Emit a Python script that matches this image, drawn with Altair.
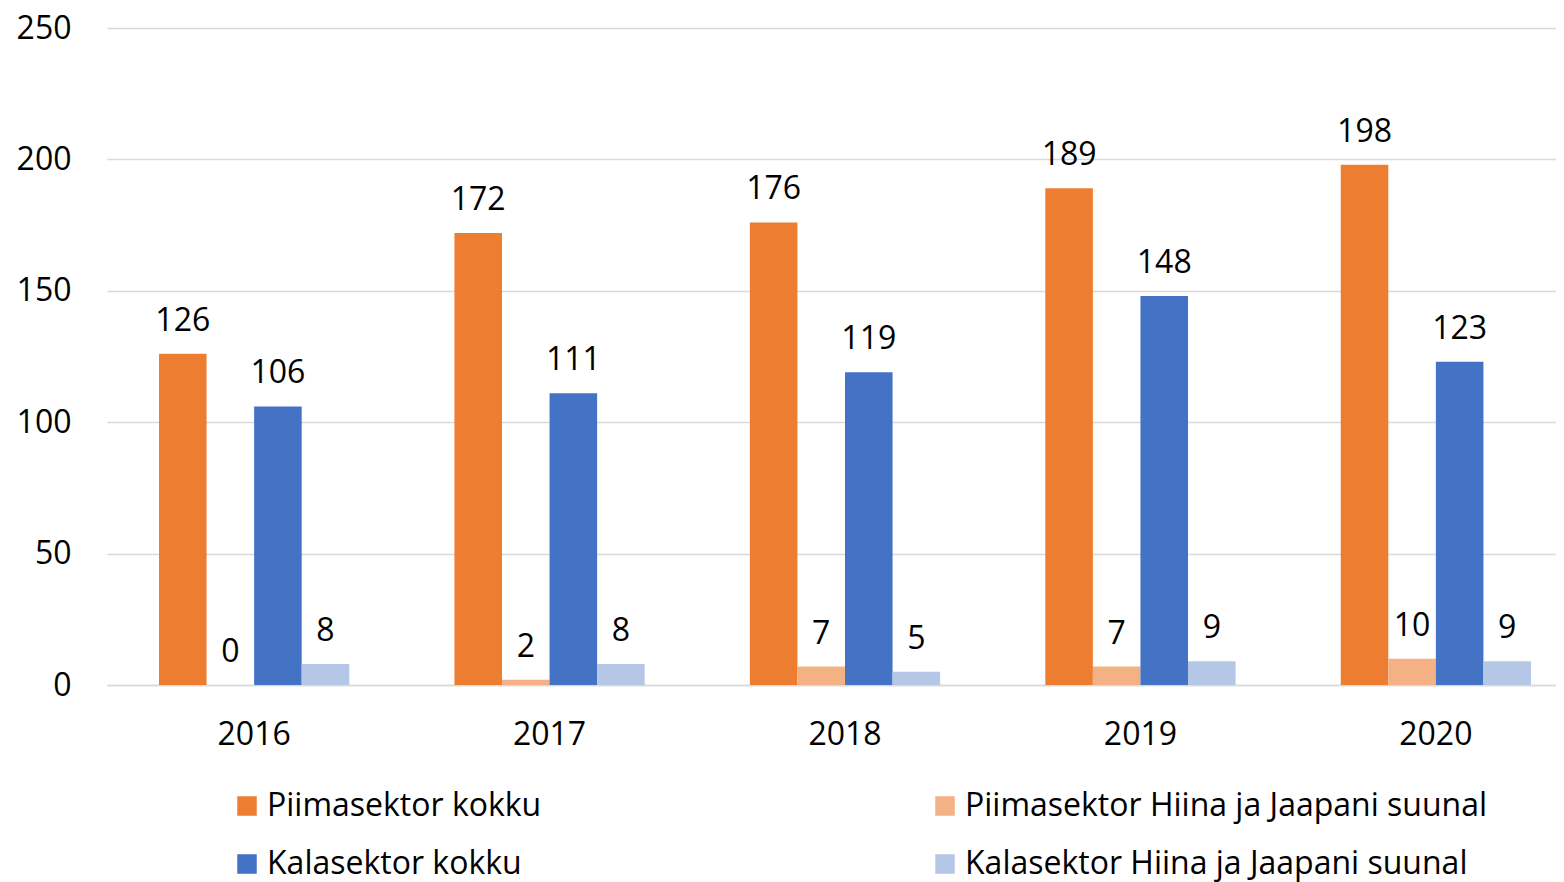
import altair as alt
import pandas as pd

years = ["2016", "2017", "2018", "2019", "2020"]
series = ["Piimasektor kokku", "Piimasektor Hiina ja Jaapani suunal",
          "Kalasektor kokku", "Kalasektor Hiina ja Jaapani suunal"]
piim_kokku = [126, 172, 176, 189, 198]
piim_hj = [0, 2, 7, 7, 10]
kala_kokku = [106, 111, 119, 148, 123]
kala_hj = [8, 8, 5, 9, 9]
colors = ["#ED7D31", "#F4B183", "#4472C4", "#B4C7E7"]

rows = []
for s, vals in zip(series, [piim_kokku, piim_hj, kala_kokku, kala_hj]):
    for y, v in zip(years, vals):
        rows.append({"year": y, "series": s, "value": v})
df = pd.DataFrame(rows)

FONT = "Open Sans"

x = alt.X("year:N", title=None,
          scale=alt.Scale(paddingInner=0.356, paddingOuter=0.176, range=[0, 1476]),
          axis=alt.Axis(labelAngle=0, labelFontSize=32, labelFont=FONT, labelColor="#000000",
                        ticks=False, domainColor="#D9D9D9", domainWidth=1.5, labelPadding=34))
xo = alt.XOffset("series:N", scale=alt.Scale(domain=series, paddingInner=0, paddingOuter=0))
y = alt.Y("value:Q", title=None,
          scale=alt.Scale(domain=[0, 250], nice=False),
          axis=alt.Axis(values=[0, 50, 100, 150, 200, 250], labelFontSize=32, labelFont=FONT,
                        labelColor="#000000", ticks=False, domain=False, labelPadding=36,
                        gridColor="#D9D9D9", gridWidth=1.5))

bars = alt.Chart(df).mark_bar().encode(
    x=x, xOffset=xo, y=y,
    color=alt.Color("series:N", scale=alt.Scale(domain=series, range=colors),
                    legend=alt.Legend(title=None, orient="none", legendX=124, legendY=762,
                                      direction="horizontal", columns=2, columnPadding=387,
                                      rowPadding=26, symbolType="square", symbolSize=380,
                                      symbolStrokeWidth=0, labelFontSize=32, labelFont=FONT,
                                      labelColor="#000000", labelOffset=4, labelLimit=800)),
)
labels = alt.Chart(df).mark_text(baseline="bottom", dy=-16, fontSize=32, font=FONT, color="#000000").encode(
    x=x, xOffset=xo, y=y, text=alt.Text("value:Q")
)

chart = (bars + labels).properties(
    width=1449, height=657,
    autosize=alt.AutoSizeParams(type="none"),
    padding={"left": 99, "top": 20, "right": 0, "bottom": 197},
).configure_view(stroke=None).configure_axis(grid=True).configure_axisX(grid=False)

chart.save("out.html", embed_options={"renderer": "svg", "actions": False})
